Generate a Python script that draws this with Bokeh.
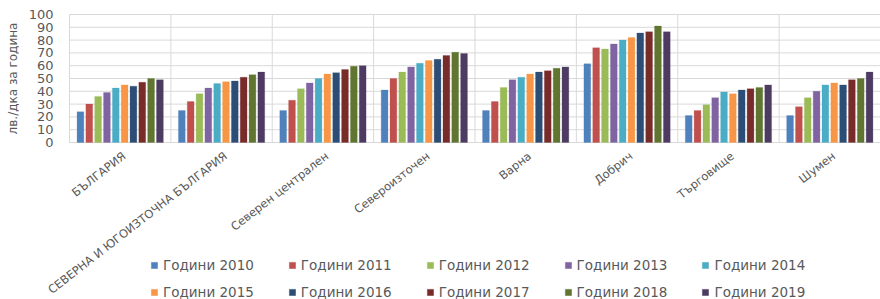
import math
from bokeh.plotting import figure
from bokeh.models import Legend, LegendItem, ColumnDataSource, Range1d
from bokeh.core.properties import value
from bokeh.embed import file_html
from bokeh.resources import INLINE

categories = ["БЪЛГАРИЯ", "СЕВЕРНА И ЮГОИЗТОЧНА БЪЛГАРИЯ", "Северен централен",
              "Североизточен", "Варна", "Добрич", "Търговище", "Шумен"]
series_names = ["Години 2010", "Години 2011", "Години 2012", "Години 2013", "Години 2014",
                "Години 2015", "Години 2016", "Години 2017", "Години 2018", "Години 2019"]
y2010 = [24, 25, 25, 41, 25, 61.5, 21, 21]
y2011 = [30, 32, 33, 50, 32, 74, 25, 28]
y2012 = [36, 38, 42, 55, 43, 73, 29.5, 35]
y2013 = [39, 42.5, 46.5, 59, 49, 77, 35, 40]
y2014 = [42.5, 46, 50, 62, 51, 80, 39.5, 45]
y2015 = [45, 47.5, 53.5, 64, 53.5, 82, 38, 46.5]
y2016 = [44, 48, 54.5, 65, 55, 85.5, 41, 45]
y2017 = [47, 51, 57, 68, 56, 86.5, 42, 49]
y2018 = [50, 53, 59.5, 70.5, 58, 91, 43, 50]
y2019 = [49, 55, 60, 69.5, 59, 86.5, 45, 55]
series_values = [y2010, y2011, y2012, y2013, y2014, y2015, y2016, y2017, y2018, y2019]
colors = ["#4F81BD", "#C0504D", "#9BBB59", "#8064A2", "#4BACC6",
          "#F79646", "#2C4D75", "#772C2A", "#5F7530", "#4D3B62"]
y_ticks = [0, 10, 20, 30, 40, 50, 60, 70, 80, 90, 100]
y_axis_title = "лв./дка за година"

TEXT = "#595959"
GRID = "#D9D9D9"
FONT = "DejaVu Sans"

n = len(categories)
y_min, y_max = y_ticks[0], y_ticks[-1]

# A single frame that covers the whole figure, so that long rotated category
# labels and the legend are not clipped.
p = figure(x_range=Range1d(-0.6806, n), y_range=Range1d(-122.66, 110.94),
           frame_width=880, frame_height=299,
           output_backend="svg", toolbar_location=None,
           x_axis_location=None, y_axis_location=None,
           min_border_left=0, min_border_top=0, min_border_right=0, min_border_bottom=0)
p.outline_line_color = None
p.background_fill_color = "white"
p.xgrid.visible = False
p.ygrid.visible = False

# gridlines (value axis) and category separators
p.segment(x0=[0] * len(y_ticks), x1=[n] * len(y_ticks), y0=y_ticks, y1=y_ticks,
          line_color=GRID, line_width=1)
bounds = list(range(n + 1))
p.segment(x0=bounds, x1=bounds, y0=[y_min] * len(bounds), y1=[y_max] * len(bounds),
          line_color=GRID, line_width=1)

slot = 0.0871
bar_w = 0.067
renderers = []
for j, (vals, col) in enumerate(zip(series_values, colors)):
    xs = [i + 0.5 + (j - 4.5) * slot for i in range(n)]
    src = ColumnDataSource(dict(x=xs, top=vals))
    r = p.vbar(x="x", top="top", bottom=y_min, width=bar_w, source=src, fill_color=col,
               line_color=col, line_alpha=0.5, line_width=0.5)
    renderers.append(r)

# value tick labels
p.text(x=[0] * len(y_ticks), y=y_ticks, text=[str(t) for t in y_ticks],
       text_align="right", text_baseline="middle", x_offset=-16,
       text_font=value(FONT), text_font_size="13px", text_color=TEXT)
# value axis title
p.text(x=[0], y=[(y_min + y_max) / 2], text=[y_axis_title], angle=math.pi / 2,
       text_align="center", text_baseline="middle", x_offset=-56,
       text_font=value(FONT), text_font_size="12px", text_color=TEXT)

# category labels
p.text(x=[i + 0.5 for i in range(n)], y=[y_min] * n, text=categories, angle=0.66,
       text_align="right", text_baseline="middle", x_offset=4, y_offset=12,
       text_font=value(FONT), text_font_size="11.5px", text_color=TEXT)

items = [LegendItem(label=name, renderers=[r]) for name, r in zip(series_names, renderers)]
for k, yloc in enumerate([26.5, -0.5]):
    leg = Legend(items=items[k * 5:(k + 1) * 5], location=(150, yloc), orientation="horizontal",
                 spacing=34, padding=0, margin=0, background_fill_alpha=0,
                 border_line_color=None, glyph_width=8, glyph_height=8, label_standoff=5,
                 label_text_font=FONT, label_text_font_size="13.5px", label_text_color=TEXT,
                 label_height=13)
    p.add_layout(leg)

open("out.html", "w").write(file_html(p, INLINE))
